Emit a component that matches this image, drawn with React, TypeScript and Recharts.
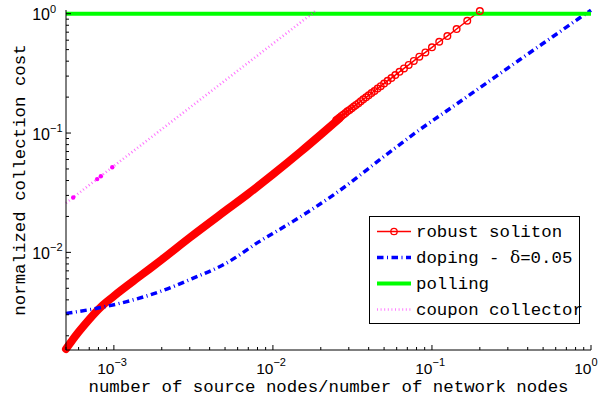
import { ComposedChart, Line, XAxis, YAxis } from "recharts";

// Values (log-log axes).
// robust soliton: the dense low end is drawn as one thick stroke, the sparse
// top end (x = 1/k) with its circle markers.
const bandX = [5e-4, 5.5e-4, 6e-4, 7e-4, 8.3e-4, 1e-3, 1.5e-3, 2e-3, 3e-3, 5e-3, 7e-3, 0.01, 0.015, 0.02, 0.0263];
const bandY = [1.55e-3, 1.85e-3, 2.15e-3, 2.75e-3, 3.5e-3, 4.3e-3, 6.5e-3, 8.7e-3, 0.0133, 0.0222, 0.031, 0.045, 0.07, 0.097, 0.133];

const solitonX = [
  0.2, 0.1667, 0.1429, 0.125, 0.1111, 0.1, 0.0909, 0.0833, 0.0769, 0.0714, 0.0667, 0.0625,
  0.0588, 0.0556, 0.0526, 0.05, 0.0476, 0.0455, 0.0435, 0.0417, 0.04, 0.0385, 0.037, 0.0357,
  0.0345, 0.0333, 0.0323, 0.0313, 0.0303, 0.0294, 0.0286, 0.0278, 0.027, 0.0263, 0.0256, 0.025,
];
const solitonY = [
  1.053, 0.873, 0.744, 0.65, 0.582, 0.523, 0.474, 0.436, 0.402, 0.372, 0.348, 0.326,
  0.306, 0.289, 0.274, 0.26, 0.247, 0.236, 0.225, 0.216, 0.207, 0.199, 0.192, 0.185,
  0.178, 0.172, 0.167, 0.161, 0.156, 0.152, 0.147, 0.143, 0.139, 0.135, 0.131, 0.128,
];

const dopingX = [5e-4, 8.1e-4, 1.19e-3, 1.93e-3, 3.13e-3, 5.07e-3, 8.2e-3, 0.0133, 0.0249, 0.0514, 0.0832, 0.135, 0.219, 0.354, 0.574, 0.842, 1];
const dopingY = [3.08e-3, 3.43e-3, 3.85e-3, 4.67e-3, 6.05e-3, 8.09e-3, 0.0123, 0.0181, 0.0313, 0.0655, 0.106, 0.166, 0.261, 0.409, 0.641, 0.915, 1.07];

const pollingX = [5e-4, 1];
const pollingY = [1, 1];

const couponX = [5e-4, 1e-3, 1e-2, 0.0188];
const couponY = [0.0259, 0.0529, 0.561, 1.07];
const couponDotX = [5.55e-4, 7.85e-4, 8.28e-4, 9.77e-4];
const couponDotY = [0.0288, 0.0411, 0.0434, 0.0516];

const seriesNames = ["robust soliton", "doping - ", "polling", "coupon collector"];

const xMajor = [1e-3, 1e-2, 1e-1, 1];
const xExp = ["\u22123", "\u22122", "\u22121", "0"];
const xMinor = [
  5e-4, 6e-4, 7e-4, 8e-4, 9e-4,
  2e-3, 3e-3, 4e-3, 5e-3, 6e-3, 7e-3, 8e-3, 9e-3,
  0.02, 0.03, 0.04, 0.05, 0.06, 0.07, 0.08, 0.09,
  0.2, 0.3, 0.4, 0.5, 0.6, 0.7, 0.8, 0.9,
];
const yMajor = [1e-2, 1e-1, 1];
const yExp = ["\u22122", "\u22121", "0"];
const yMinor = [
  2e-3, 3e-3, 4e-3, 5e-3, 6e-3, 7e-3, 8e-3, 9e-3,
  0.02, 0.03, 0.04, 0.05, 0.06, 0.07, 0.08, 0.09,
  0.2, 0.3, 0.4, 0.5, 0.6, 0.7, 0.8, 0.9,
];

const zip = (xs: number[], ys: number[]) => xs.map((x, i) => ({ x, y: ys[i] }));
const band = zip(bandX, bandY);
const soliton = zip(solitonX, solitonY);
const doping = zip(dopingX, dopingY);
const polling = zip(pollingX, pollingY);
const coupon = zip(couponX, couponY);
const couponDots = zip(couponDotX, couponDotY);

const SANS = "'Liberation Sans', Arial, Helvetica, sans-serif";
const MONO = "'Liberation Mono', 'Courier New', monospace";

const RED = "#ff0000";
const BLUE = "#0000ff";
const GREEN = "#00ff00";
const MAGENTA = "#ff00ff";
const DASHDOT = "6.5 3.5 1 3.5";
const DOTTED = "1 2.6";

const X_DOMAIN: [number, number] = [5e-4, 1];
const Y_DOMAIN: [number, number] = [1.52e-3, 1.074];

function XTick(props: any) {
  const { x, y, payload, top } = props;
  const i = xMajor.indexOf(payload.value);
  const len = i >= 0 ? 5 : 3;
  if (top) return <line x1={x} x2={x} y1={y} y2={y + len} stroke="#000" />;
  return (
    <g>
      <line x1={x} x2={x} y1={y} y2={y - len} stroke="#000" />
      {i >= 0 && (
        <g fontFamily={SANS} fill="#000">
          <text x={x + 0.5} y={y + 23.5} textAnchor="end" fontSize={15.5}>10</text>
          <text x={x + 0.5} y={y + 16} fontSize={11}>{xExp[i]}</text>
        </g>
      )}
    </g>
  );
}

function YTick(props: any) {
  const { x, y, payload, right } = props;
  const i = yMajor.indexOf(payload.value);
  const len = i >= 0 ? 5 : 3;
  if (right) return <line x1={x} x2={x - len} y1={y} y2={y} stroke="#000" />;
  return (
    <g>
      <line x1={x} x2={x + len} y1={y} y2={y} stroke="#000" />
      {i >= 0 && (
        <g fontFamily={SANS} fill="#000">
          <text x={x - 16} y={y + 6.5} textAnchor="end" fontSize={16}>10</text>
          <text x={x - 16} y={y - 1} fontSize={11}>{yExp[i]}</text>
        </g>
      )}
    </g>
  );
}

function Overlay() {
  const rows = [231.5, 257.5, 283.5, 309.5];
  return (
    <svg
      width={603}
      height={398}
      style={{ position: "absolute", left: 0, top: 0, pointerEvents: "none" }}
    >
      {/* axis titles */}
      <text x={328.5} y={391.5} textAnchor="middle" fontFamily={MONO} fontSize={17.4} fill="#000">
        number of source nodes/number of network nodes
      </text>
      <text
        transform="translate(25,180) rotate(-90)"
        textAnchor="middle"
        fontFamily={MONO}
        fontSize={17.4}
        fill="#000"
      >
        normalized collection cost
      </text>

      {/* legend */}
      <rect x={369.5} y={216.5} width={210} height={107} fill="#fff" stroke="#000" />
      <line x1={377} x2={411} y1={rows[0]} y2={rows[0]} stroke={RED} strokeWidth={1.5} />
      <circle cx={394} cy={rows[0]} r={3.2} fill="none" stroke={RED} strokeWidth={1.3} />
      <line x1={377} x2={411} y1={rows[1]} y2={rows[1]} stroke={BLUE} strokeWidth={3.5} strokeDasharray={DASHDOT} />
      <line x1={377} x2={411} y1={rows[2]} y2={rows[2]} stroke={GREEN} strokeWidth={4} />
      <line x1={377} x2={411} y1={rows[3]} y2={rows[3]} stroke={MAGENTA} strokeWidth={2.6} strokeOpacity={0.5} strokeDasharray={DOTTED} />
      <g fontFamily={MONO} fontSize={17.4} fill="#000">
        <text x={416} y={rows[0] + 5.5}>{seriesNames[0]}</text>
        <text x={416} y={rows[1] + 5.5}>
          {seriesNames[1]}
          <tspan fontFamily="'DejaVu Serif', 'Liberation Serif', serif" fontSize={17}>δ</tspan>
          =0.05
        </text>
        <text x={416} y={rows[2] + 5.5}>{seriesNames[2]}</text>
        <text x={416} y={rows[3] + 5.5}>{seriesNames[3]}</text>
      </g>
    </svg>
  );
}

export default function App() {
  return (
    <div style={{ position: "absolute", left: 0, top: 0, width: 603, height: 398, background: "#fff" }}>
      <ComposedChart width={603} height={398} margin={{ top: 10, right: 12, bottom: 18, left: 6 }}>
        <XAxis
          xAxisId="b"
          dataKey="x"
          type="number"
          scale="log"
          domain={X_DOMAIN}
          ticks={[...xMinor, ...xMajor]}
          interval={0}
          height={30}
          tickSize={0}
          tickMargin={0}
          tickLine={false}
          axisLine={{ stroke: "#000" }}
          tick={(p: any) => <XTick {...p} />}
        />
        <XAxis
          xAxisId="t"
          orientation="top"
          dataKey="x"
          type="number"
          scale="log"
          domain={X_DOMAIN}
          ticks={[...xMinor, ...xMajor]}
          interval={0}
          height={0}
          tickSize={0}
          tickMargin={0}
          tickLine={false}
          axisLine={{ stroke: "#000" }}
          tick={(p: any) => <XTick {...p} top />}
        />
        <YAxis
          yAxisId="l"
          dataKey="y"
          type="number"
          scale="log"
          domain={Y_DOMAIN}
          ticks={[...yMinor, ...yMajor]}
          interval={0}
          width={60}
          tickSize={0}
          tickMargin={0}
          tickLine={false}
          axisLine={{ stroke: "#000" }}
          tick={(p: any) => <YTick {...p} />}
        />
        <YAxis
          yAxisId="r"
          orientation="right"
          dataKey="y"
          type="number"
          scale="log"
          domain={Y_DOMAIN}
          ticks={[...yMinor, ...yMajor]}
          interval={0}
          width={0}
          tickSize={0}
          tickMargin={0}
          tickLine={false}
          axisLine={{ stroke: "#000" }}
          tick={(p: any) => <YTick {...p} right />}
        />

        {/* binds the top/right frame axes to the same domains */}
        <Line xAxisId="t" yAxisId="r" data={polling} dataKey="y" stroke="none" dot={false} isAnimationActive={false} />

        <Line
          xAxisId="b"
          yAxisId="l"
          type="monotone"
          data={band}
          dataKey="y"
          stroke={RED}
          strokeWidth={8}
          strokeLinecap="round"
          strokeLinejoin="round"
          dot={false}
          isAnimationActive={false}
        />
        <Line
          xAxisId="b"
          yAxisId="l"
          data={soliton}
          dataKey="y"
          stroke={RED}
          strokeWidth={1.5}
          dot={{ r: 3.3, stroke: RED, strokeWidth: 1.4, fill: "none" }}
          isAnimationActive={false}
        />
        <Line
          xAxisId="b"
          yAxisId="l"
          type="monotone"
          data={doping}
          dataKey="y"
          stroke={BLUE}
          strokeWidth={3.5}
          strokeDasharray={DASHDOT}
          dot={false}
          isAnimationActive={false}
        />
        <Line
          xAxisId="b"
          yAxisId="l"
          data={polling}
          dataKey="y"
          stroke={GREEN}
          strokeWidth={4}
          dot={false}
          isAnimationActive={false}
        />
        <Line
          xAxisId="b"
          yAxisId="l"
          data={coupon}
          dataKey="y"
          stroke={MAGENTA}
          strokeWidth={2.6}
          strokeOpacity={0.55}
          strokeDasharray={DOTTED}
          dot={false}
          isAnimationActive={false}
        />
        <Line
          xAxisId="b"
          yAxisId="l"
          data={couponDots}
          dataKey="y"
          stroke="none"
          dot={{ r: 2.2, fill: MAGENTA, stroke: "none" }}
          isAnimationActive={false}
        />
      </ComposedChart>
      <Overlay />
    </div>
  );
}
